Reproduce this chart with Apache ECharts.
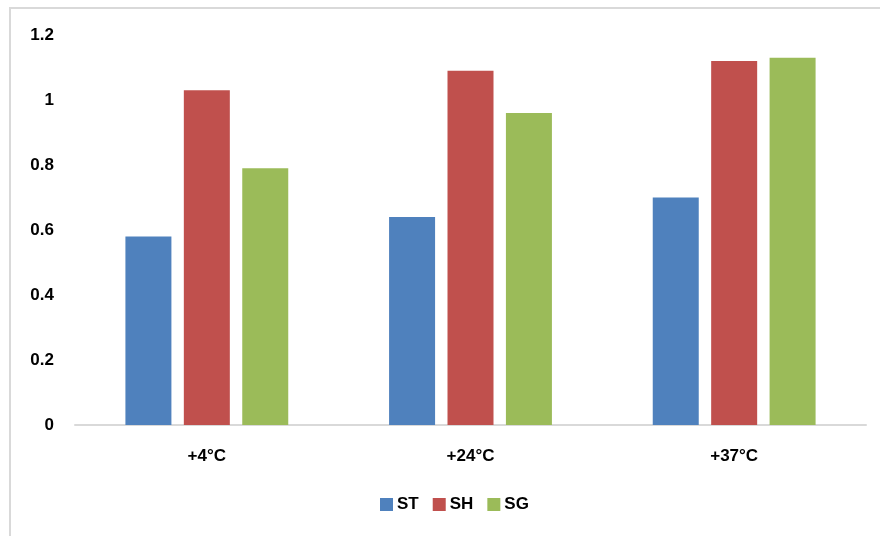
<!DOCTYPE html>
<html>
<head>
<meta charset="utf-8">
<script src="https://cdn.jsdelivr.net/npm/echarts@6/dist/echarts.min.js"></script>
<style>html,body{margin:0;padding:0;background:#fff}#c{width:880px;height:536px}</style>
</head>
<body>
<div id="c"></div>
<script>
const categories = ['+4°C', '+24°C', '+37°C'];
const seriesNames = ['ST', 'SH', 'SG'];
const stValues = [0.58, 0.64, 0.70];
const shValues = [1.03, 1.09, 1.12];
const sgValues = [0.79, 0.96, 1.13];
const yTicks = [0, 0.2, 0.4, 0.6, 0.8, 1, 1.2];

const colors = ['#4f81bd', '#c0504d', '#9bbb59'];
const font = 'Liberation Sans, Arial, sans-serif';
const chart = echarts.init(document.getElementById('c'), null, {renderer: 'canvas'});
const values = [stValues, shValues, sgValues];
chart.setOption({
  animation: false,
  graphic: [{
    type: 'rect', shape: {x: 10, y: 8, width: 900, height: 600},
    style: {fill: 'none', stroke: '#d9d9d9', lineWidth: 2}, silent: true, z: -1
  }],
  grid: {left: 75, right: 14, top: 35, bottom: 111, containLabel: false},
  legend: {
    top: 491, left: 375, itemWidth: 13, itemHeight: 13, itemGap: 14,
    icon: 'rect',
    textStyle: {fontFamily: font, fontWeight: 'bold', fontSize: 17, color: '#000', padding: [0, 0, 0, -1]},
    data: seriesNames
  },
  xAxis: {
    type: 'category', data: categories,
    axisLine: {lineStyle: {color: '#d9d9d9', width: 2}},
    axisTick: {show: false},
    axisLabel: {fontFamily: font, fontWeight: 'bold', fontSize: 17, color: '#000', margin: 23}
  },
  yAxis: {
    type: 'value', min: yTicks[0], max: yTicks[yTicks.length - 1], interval: 0.2,
    axisLine: {show: false}, axisTick: {show: false}, splitLine: {show: false},
    axisLabel: {fontFamily: font, fontWeight: 'bold', fontSize: 17, color: '#000', margin: 21,
      formatter: v => String(Math.round(v * 10) / 10)}
  },
  series: seriesNames.map((n, i) => ({
    name: n, type: 'bar', data: values[i], barWidth: 46, barGap: '27%',
    itemStyle: {color: colors[i]}
  }))
});
</script>
</body>
</html>
